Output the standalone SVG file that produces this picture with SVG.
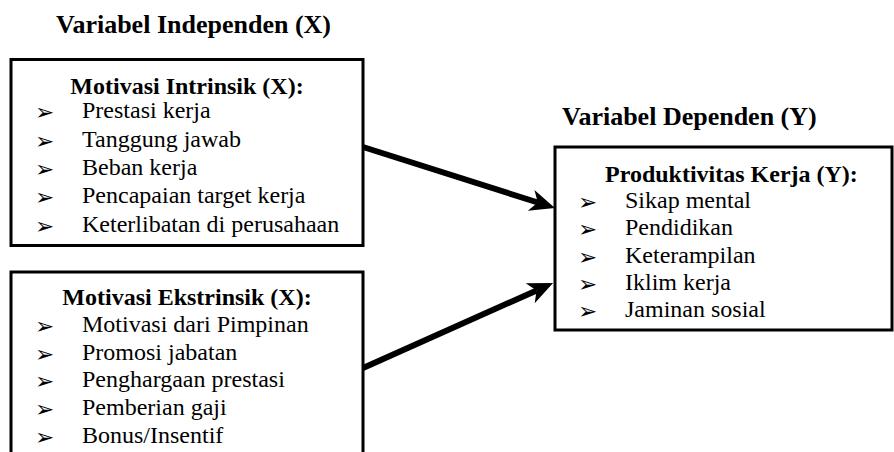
<svg xmlns="http://www.w3.org/2000/svg" width="894" height="452" viewBox="0 0 894 452">
<style>
.t{font-family:"Liberation Serif","Times New Roman",serif;fill:#000}
.title{font-size:26px;font-weight:bold}
.hd{font-size:24px;font-weight:bold}
.it{font-size:24px}
.bl{font-family:"DejaVu Sans",sans-serif;font-size:23px;fill:#000}
.box{fill:#fff;stroke:#000;stroke-width:3}
.con{fill:none;stroke:#000;stroke-width:6}
</style>
<defs>
<marker id="ah" markerUnits="userSpaceOnUse" orient="auto" refX="0" refY="0" markerWidth="30" markerHeight="30" viewBox="-10 -15 30 30" overflow="visible">
<path d="M18,0 L-7,-11 L0,0 L-7,11 Z" fill="#000"/>
</marker>
</defs>
<rect width="894" height="452" fill="#fff"/>
<text class="t title" x="56" y="33">Variabel Independen (X)</text>
<text class="t title" x="562" y="125">Variabel Dependen (Y)</text>
<g id="intrinsik">
<rect class="box" x="11" y="59.5" width="352" height="186"/>
<text class="t hd" x="187" y="94" text-anchor="middle">Motivasi Intrinsik (X):</text>
<g class="bl"><text x="35" y="120">➢</text><text x="35" y="149">➢</text><text x="35" y="177">➢</text><text x="35" y="205">➢</text><text x="35" y="234">➢</text></g>
<text class="t it" x="82" y="118">Prestasi kerja</text>
<text class="t it" x="82" y="147">Tanggung jawab</text>
<text class="t it" x="82" y="175">Beban kerja</text>
<text class="t it" x="82" y="203">Pencapaian target kerja</text>
<text class="t it" x="82" y="232">Keterlibatan di perusahaan</text>
</g>
<g id="ekstrinsik">
<rect class="box" x="11" y="272" width="352" height="200"/>
<text class="t hd" x="187" y="305" text-anchor="middle">Motivasi Ekstrinsik (X):</text>
<g class="bl"><text x="35" y="334">➢</text><text x="35" y="362">➢</text><text x="35" y="389">➢</text><text x="35" y="417">➢</text><text x="35" y="445">➢</text></g>
<text class="t it" x="82" y="332">Motivasi dari Pimpinan</text>
<text class="t it" x="82" y="360">Promosi jabatan</text>
<text class="t it" x="82" y="387">Penghargaan prestasi</text>
<text class="t it" x="82" y="415">Pemberian gaji</text>
<text class="t it" x="82" y="443">Bonus/Insentif</text>
</g>
<g id="produktivitas">
<rect class="box" x="555" y="147" width="337" height="183"/>
<text class="t hd" x="605" y="182">Produktivitas Kerja (Y):</text>
<g class="bl"><text x="578" y="210">➢</text><text x="578" y="237">➢</text><text x="578" y="265">➢</text><text x="578" y="292">➢</text><text x="578" y="319">➢</text></g>
<text class="t it" x="625" y="208">Sikap mental</text>
<text class="t it" x="625" y="235">Pendidikan</text>
<text class="t it" x="625" y="263">Keterampilan</text>
<text class="t it" x="625" y="290">Iklim kerja</text>
<text class="t it" x="625" y="317">Jaminan sosial</text>
</g>
<g id="connectors">
<path class="con" d="M363,147 L537.8,202.5" marker-end="url(#ah)"/>
<path class="con" d="M363,368 L536.6,290.4" marker-end="url(#ah)"/>
</g>
</svg>
